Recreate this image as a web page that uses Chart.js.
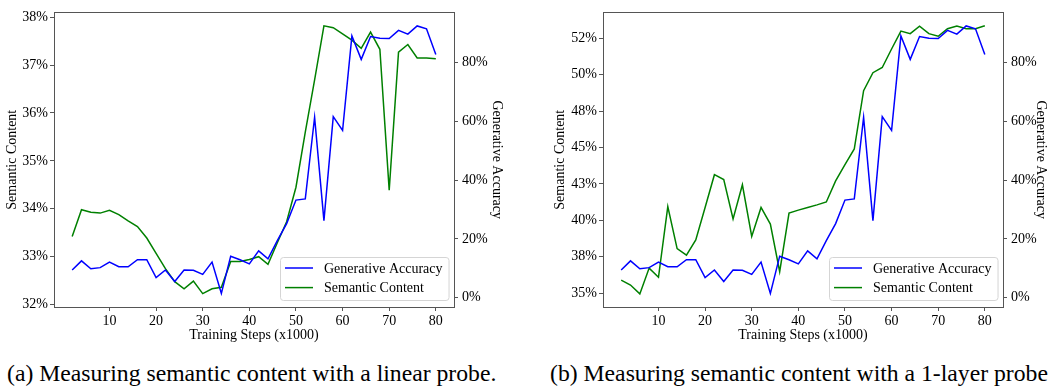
<!DOCTYPE html>
<html>
<head>
<meta charset="utf-8">
<script src="https://cdn.jsdelivr.net/npm/chart.js@4.4.1/dist/chart.umd.min.js"></script>
<style>
  html, body { margin: 0; padding: 0; background: #fff; }
  body { width: 1050px; height: 389px; position: relative; overflow: hidden; font-family: "Liberation Serif", "DejaVu Serif", serif; }
  .panel { position: absolute; top: 0; width: 525px; height: 350px; }
  .caption { position: absolute; top: 362px; font-size: 23.7px; line-height: 23.7px; white-space: nowrap; color: #000; }
</style>
</head>
<body>
<div class="panel" style="left:0"><canvas id="c1" width="525" height="350"></canvas></div>
<div class="panel" style="left:525px"><canvas id="c2" width="525" height="350"></canvas></div>
<div class="caption" style="left:7px">(a) Measuring semantic content with a linear probe.</div>
<div class="caption" style="left:550px">(b) Measuring semantic content with a 1-layer probe</div>
<script>
// ---- data ----
const steps = [2,4,6,8,10,12,14,16,18,20,22,24,26,28,30,32,34,36,38,40,42,44,46,48,50,52,54,56,58,60,62,64,66,68,70,72,74,76,78,80];
const generativeAccuracy = [9.4,12.5,9.8,10.2,12.1,10.5,10.5,12.9,12.9,6.8,9.4,5.5,9.4,9.3,7.9,12.1,1.4,14.1,12.9,11.5,15.9,13.2,19.4,25.2,33.2,33.6,61.4,26.2,61.6,56.9,89.1,81.1,88.9,88.3,88.2,91.0,89.7,92.5,91.5,82.8];
const semanticLinear = [33.42,33.98,33.93,33.91,33.97,33.88,33.75,33.63,33.39,33.07,32.75,32.48,32.33,32.49,32.23,32.33,32.36,32.90,32.90,32.94,33.00,32.84,33.29,33.73,34.45,35.60,36.69,37.82,37.78,37.65,37.52,37.35,37.69,37.33,34.39,37.27,37.43,37.15,37.15,37.13];
const semanticOneLayer = [35.89,35.56,34.95,36.72,36.09,40.94,38.06,37.61,38.66,40.88,43.13,42.80,40.10,42.44,38.89,40.88,39.74,36.47,40.50,40.70,40.88,41.06,41.26,42.71,43.83,44.90,48.90,50.13,50.49,51.76,52.99,52.81,53.33,52.81,52.63,53.15,53.33,53.15,53.15,53.35];

const xTicks = [10,20,30,40,50,60,70,80];
const xTickLabels = ['10','20','30','40','50','60','70','80'];
const accTicks = [0,20,40,60,80];
const accTickLabels = ['0%','20%','40%','60%','80%'];
const linTicks = [32,33,34,35,36,37,38];
const linTickLabels = ['32%','33%','34%','35%','36%','37%','38%'];
const oneTicks = [35,37.5,40,42.5,45,47.5,50,52.5];
const oneTickLabels = ['35%','38%','40%','43%','45%','48%','50%','52%'];

const seriesNames = ['Generative Accuracy', 'Semantic Content'];
const xTitle = 'Training Steps (x1000)';
const leftTitle = 'Semantic Content';
const rightTitle = 'Generative Accuracy';

// ---- styling ----
const FONT = { family: '"Liberation Serif", "Times New Roman", serif', size: 14 };
const AXIS_COLOR = '#555';

const frame = {
  id: 'frame',
  afterDraw(chart) {
    const a = chart.chartArea, ctx = chart.ctx;
    ctx.save();
    ctx.strokeStyle = AXIS_COLOR; ctx.lineWidth = 1;
    ctx.beginPath();
    ctx.moveTo(a.left, Math.round(a.top) + 0.5);
    ctx.lineTo(a.right, Math.round(a.top) + 0.5);
    ctx.stroke();
    ctx.restore();
  }
};

const innerLegend = {
  id: 'innerLegend',
  afterDraw(chart) {
    const ctx = chart.ctx, a = chart.chartArea;
    const items = chart.data.datasets;
    ctx.save();
    ctx.font = FONT.size + 'px ' + FONT.family;
    const tw = Math.max(...items.map(d => ctx.measureText(d.label).width));
    const w = 44 + tw + 6, h = 43;
    const x = Math.round(a.right - 5 - w), y = Math.round(a.bottom - 7 - h);
    ctx.fillStyle = 'rgba(255,255,255,0.85)';
    ctx.strokeStyle = '#d5d5d5'; ctx.lineWidth = 1;
    ctx.beginPath();
    ctx.roundRect(x + 0.5, y + 0.5, w, h, 3);
    ctx.fill(); ctx.stroke();
    items.forEach((d, i) => {
      const cy = y + 11 + i * 19.6;
      ctx.strokeStyle = d.borderColor; ctx.lineWidth = d.borderWidth;
      ctx.beginPath(); ctx.moveTo(x + 5, cy); ctx.lineTo(x + 33, cy); ctx.stroke();
      ctx.fillStyle = '#000'; ctx.textBaseline = 'middle'; ctx.textAlign = 'left';
      ctx.fillText(d.label, x + 44, cy + 1);
    });
    ctx.restore();
  }
};

function setTicks(values) {
  return scale => { scale.ticks = values.map(v => ({ value: v })); };
}

function makeChart(id, semValues, semMin, semMax, semTicks, semLabels, leftW, rightW, leftTitlePad, rightTitlePad) {
  const ctx = document.getElementById(id);
  return new Chart(ctx, {
    type: 'line',
    data: {
      datasets: [
        {
          label: seriesNames[0],
          data: steps.map((s, i) => ({ x: s, y: generativeAccuracy[i] })),
          borderColor: '#0000ff', borderWidth: 1.5, pointRadius: 0, tension: 0, fill: false,
          yAxisID: 'yR'
        },
        {
          label: seriesNames[1],
          data: steps.map((s, i) => ({ x: s, y: semValues[i] })),
          borderColor: '#008000', borderWidth: 1.5, pointRadius: 0, tension: 0, fill: false,
          yAxisID: 'yL'
        }
      ]
    },
    options: {
      responsive: false,
      animation: false,
      devicePixelRatio: 1,
      layout: { padding: { top: 6, left: 0, right: 0, bottom: 0 } },
      plugins: { legend: { display: false }, tooltip: { enabled: false } },
      scales: {
        x: {
          type: 'linear', min: -1.9, max: 83.9,
          afterBuildTicks: setTicks(xTicks),
          afterFit: s => { s.height = 43; },
          grid: { drawOnChartArea: false, drawTicks: true, tickLength: 4, color: AXIS_COLOR },
          border: { display: true, color: AXIS_COLOR, width: 1 },
          ticks: { color: '#000', font: FONT, padding: 2, maxRotation: 0, autoSkip: false,
                   callback: (v, i) => xTickLabels[i] },
          title: { display: true, text: xTitle, color: '#000', font: FONT, padding: { top: 0, bottom: 6 } }
        },
        yL: {
          type: 'linear', position: 'left', min: semMin, max: semMax,
          afterBuildTicks: setTicks(semTicks),
          afterFit: s => { s.width = leftW; },
          grid: { drawOnChartArea: false, drawTicks: true, tickLength: 4, color: AXIS_COLOR },
          border: { display: true, color: AXIS_COLOR, width: 1 },
          ticks: { color: '#000', font: FONT, padding: 2, autoSkip: false,
                   callback: (v, i) => semLabels[i] },
          title: { display: true, text: leftTitle, color: '#000', font: FONT, padding: { top: leftTitlePad, bottom: 0 } }
        },
        yR: {
          type: 'linear', position: 'right', min: -3.2, max: 97.1,
          afterBuildTicks: setTicks(accTicks),
          afterFit: s => { s.width = rightW; },
          grid: { drawOnChartArea: false, drawTicks: true, tickLength: 4, color: AXIS_COLOR },
          border: { display: true, color: AXIS_COLOR, width: 1 },
          ticks: { color: '#000', font: FONT, padding: 4, autoSkip: false,
                   callback: (v, i) => accTickLabels[i] },
          title: { display: true, text: rightTitle, color: '#000', font: FONT, padding: { top: rightTitlePad, bottom: 0 } }
        }
      }
    },
    plugins: [frame, innerLegend]
  });
}

makeChart('c1', semanticLinear, 31.95, 38.1, linTicks, linTickLabels, 54, 71, 4, 20);
makeChart('c2', semanticOneLayer, 34.05, 54.27, oneTicks, oneTickLabels, 78, 47, 27, 1);
</script>
</body>
</html>
